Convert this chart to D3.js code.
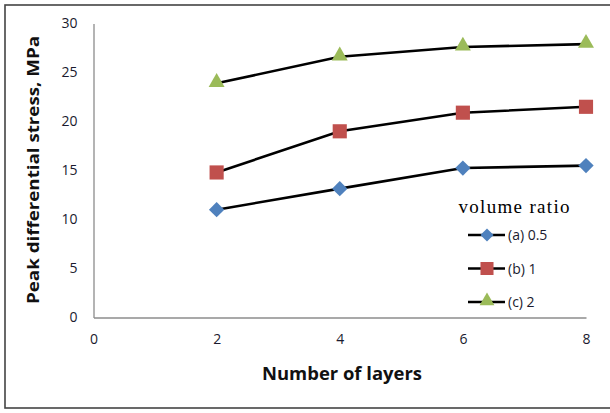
<!DOCTYPE html>
<html>
<head>
<meta charset="utf-8">
<script src="https://d3js.org/d3.v7.min.js"></script>
<style>
  body { margin: 0; background: #fff; }
  text { font-family: "Open Sans", Lato, sans-serif; }
</style>
</head>
<body>
<svg id="chart" width="610" height="413"></svg>
<script>
// data
const layers = [2, 4, 6, 8];
const ratio05 = [11.0, 13.15, 15.25, 15.5];
const ratio1 = [14.8, 19.0, 20.9, 21.5];
const ratio2 = [23.9, 26.6, 27.6, 27.9];
const seriesNames = ["(a) 0.5", "(b) 1", "(c) 2"];
const xTicks = [0, 2, 4, 6, 8];
const yTicks = [0, 5, 10, 15, 20, 25, 30];

const series = [
  {name: seriesNames[0], values: ratio05, color: "#4F81BD", shape: d3.symbolDiamond2},
  {name: seriesNames[1], values: ratio1, color: "#C0504D", shape: d3.symbolSquare},
  {name: seriesNames[2], values: ratio2, color: "#9BBB59", shape: d3.symbolTriangle}
];

const svg = d3.select("#chart");

// outer frame (right edge runs past the picture)
svg.append("rect")
  .attr("x", 5).attr("y", 5)
  .attr("width", 620).attr("height", 403)
  .attr("fill", "none").attr("stroke", "#444").attr("stroke-width", 1.6);

const x = d3.scaleLinear().domain([0, 8]).range([93.5, 586]);
const y = d3.scaleLinear().domain([0, 30]).range([317.5, 23.5]);

// axes, no tick marks
const xAxis = svg.append("g")
  .attr("transform", `translate(0,${y(0)})`)
  .call(d3.axisBottom(x).tickValues(xTicks).tickSize(0).tickPadding(17));
const yAxis = svg.append("g")
  .attr("transform", `translate(${x(0)},0)`)
  .call(d3.axisLeft(y).tickValues(yTicks).tickSize(0).tickPadding(16));

[xAxis, yAxis].forEach(g => {
  g.select(".domain").attr("stroke", "#8c8c8c").attr("stroke-width", 1.3);
  g.selectAll("text").attr("fill", "#1a1a2e").style("font-size", "14px")
    .style("font-family", "'Open Sans', Lato, sans-serif");
});

// lines and markers
const line = d3.line()
  .x((d, i) => x(layers[i]))
  .y(d => y(d));

series.forEach(s => {
  svg.append("path")
    .datum(s.values)
    .attr("d", line)
    .attr("fill", "none")
    .attr("stroke", "#000")
    .attr("stroke-width", 2.6);
});

series.forEach(s => {
  const size = s.shape === d3.symbolTriangle ? 110 : s.shape === d3.symbolSquare ? 200 : 150;
  svg.append("g").selectAll("path")
    .data(s.values)
    .join("path")
    .attr("transform", (d, i) => `translate(${x(layers[i])},${y(d) + (s.shape === d3.symbolTriangle ? -1 : 0)})`)
    .attr("d", d3.symbol(s.shape, size))
    .attr("fill", s.color);
});

// legend
const legend = svg.append("g");
legend.append("text")
  .attr("x", 514).attr("y", 213)
  .attr("text-anchor", "middle")
  .style("font-family", "'Liberation Serif', 'DejaVu Serif', serif")
  .style("font-size", "19px")
  .attr("textLength", 111)
  .attr("lengthAdjust", "spacing")
  .attr("fill", "#000")
  .text("volume ratio");

const legendY = d3.scalePoint().domain(seriesNames).range([235, 302]);
series.forEach(s => {
  const ly = legendY(s.name);
  legend.append("line")
    .attr("x1", 468).attr("x2", 505)
    .attr("y1", ly).attr("y2", ly)
    .attr("stroke", "#000").attr("stroke-width", 2.6);
  const size = s.shape === d3.symbolTriangle ? 95 : s.shape === d3.symbolSquare ? 170 : 110;
  legend.append("path")
    .attr("transform", `translate(487,${ly + (s.shape === d3.symbolTriangle ? -1 : 0)})`)
    .attr("d", d3.symbol(s.shape, size))
    .attr("fill", s.color);
  legend.append("text")
    .attr("x", 508).attr("y", ly + 5)
    .style("font-size", "14px")
    .attr("fill", "#1a1a2e")
    .text(s.name);
});

// axis titles
svg.append("text")
  .attr("x", 342).attr("y", 380)
  .attr("text-anchor", "middle")
  .style("font-size", "17px")
  .style("font-weight", "bold")
  .attr("textLength", 160)
  .attr("lengthAdjust", "spacingAndGlyphs")
  .attr("fill", "#111")
  .text("Number of layers");

svg.append("text")
  .attr("transform", "translate(39,170) rotate(-90)")
  .attr("text-anchor", "middle")
  .style("font-size", "16px")
  .style("font-weight", "bold")
  .attr("textLength", 268)
  .attr("lengthAdjust", "spacingAndGlyphs")
  .attr("fill", "#111")
  .text("Peak differential stress, MPa");
</script>
</body>
</html>
